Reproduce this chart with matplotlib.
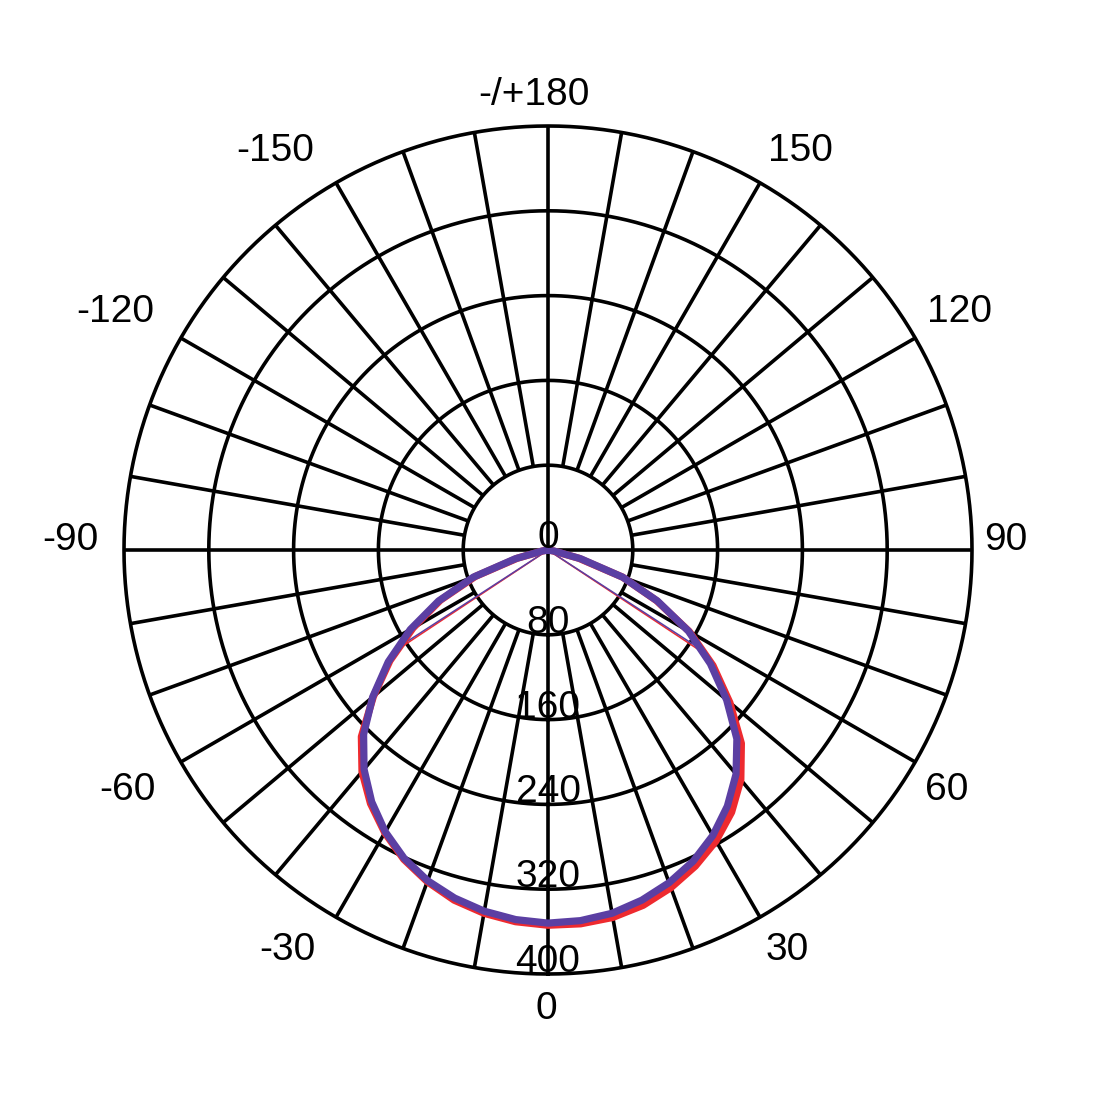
import numpy as np
import matplotlib
matplotlib.use("Agg")
import matplotlib.pyplot as plt

plt.rcParams['font.family'] = ['Liberation Sans', 'DejaVu Sans']

# gamma angles (deg), 0 = straight down, positive to the right
angles = [-90, -85, -80, -75, -70, -65, -60, -55, -50, -45, -40, -35, -30, -25, -20, -15, -10, -5,
          0, 5, 10, 15, 20, 25, 30, 35, 40, 45, 50, 55, 60, 65, 70, 75, 80, 85, 90]

# luminous intensity, two planes (cd)
blue_cd = [0, 0, 6, 32, 75, 114, 150, 184, 216, 246, 270, 290, 307, 321, 332, 340, 346, 350,
           352, 351, 348, 342, 334, 324, 311, 295, 276, 252, 220, 187, 153, 114, 75, 32, 6, 0, 0]
red_cd = [0, 0, 5, 30, 73, 112, 147, 182, 215, 249, 273, 292, 308, 322, 333, 342, 348, 352,
          354, 354, 352, 347, 339, 329, 317, 302, 283, 258, 224, 190, 154, 113, 75, 30, 5, 0, 0]

# the two thin rays
thin_angles_blue = [-57, 57]
thin_angles_red = [-56.5, 56.5]
thin_cd_blue = [168, 167]
thin_cd_red = [169, 168]

rings = [80, 160, 240, 320, 400]
ring_labels = ["0", "80", "160", "240", "320", "400"]
angle_labels = ["-/+180", "150", "-150", "120", "-120", "90", "-90", "60", "-60", "30", "-30", "0"]
# label centre x / baseline y in pixels
label_px = [(534, 105), (800, 161), (275, 161), (960, 322), (115, 322), (1006, 550),
            (70, 550), (947, 800), (127, 800), (787, 960), (287, 960), (546, 1019)]

W = 1096
fig = plt.figure(figsize=(W / 100, W / 100), dpi=100)
cx, cy, R = 548, 550, 424
ax = fig.add_axes([(cx - R) / W, 1 - (cy + R) / W, 2 * R / W, 2 * R / W], projection='polar')
ax.set_theta_zero_location('S')
ax.set_theta_direction(1)
ax.set_ylim(0, 400)
ax.grid(False)
ax.set_xticks([])
ax.set_yticks([])
ax.spines['polar'].set_visible(False)

lw_grid = 2.6
t = np.linspace(0, 2 * np.pi, 721)
for r in rings:
    ax.plot(t, np.full_like(t, r), color='black', lw=lw_grid, zorder=1, clip_on=False)
for a in range(0, 360, 10):
    th = np.deg2rad(a)
    r0 = 0 if a % 90 == 0 else 80
    ax.plot([th, th], [r0, 400], color='black', lw=lw_grid, zorder=1,
            solid_capstyle='butt', clip_on=False)

# curves
red = '#ee2a2f'
blue = '#5b3fa3'
th = np.deg2rad(angles)
for a, v in zip(thin_angles_red, thin_cd_red):
    ax.plot([np.deg2rad(a)] * 2, [0, v], color=red, lw=1.1, zorder=3)
for a, v in zip(thin_angles_blue, thin_cd_blue):
    ax.plot([np.deg2rad(a)] * 2, [0, v], color=blue, lw=1.1, zorder=3)
ax.plot(th, red_cd, color=red, lw=5.2, zorder=4, solid_joinstyle='round')
ax.plot(th, blue_cd, color=blue, lw=5.2, zorder=5, solid_joinstyle='round')

# radial labels just above each ring on the 0 line
for v, lab in zip([0] + rings, ring_labels):
    ax.annotate(lab, xy=(0, v), xytext=(0, 2), textcoords='offset pixels',
                ha='center', va='baseline', fontsize=28, zorder=6)

for lab, (px, py) in zip(angle_labels, label_px):
    fig.text(px / W, 1 - py / W, lab, ha='center', va='baseline', fontsize=28)

fig.savefig('out.png', dpi=100, facecolor='white')
